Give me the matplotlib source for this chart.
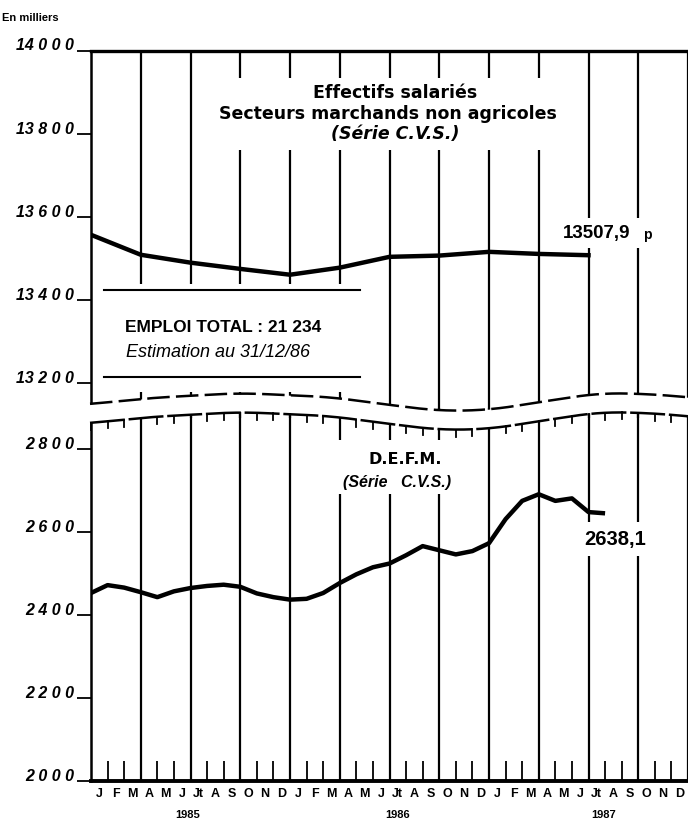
import numpy as np
import matplotlib.pyplot as plt
from matplotlib.patches import Rectangle, Polygon

# Effectifs salaries (trimestriel), mois depuis janvier 1985
emploi_mois = [0, 3, 6, 9, 12, 15, 18, 21, 24, 27, 30]
emploi = [13557, 13509, 13490, 13475, 13461, 13478, 13504, 13507, 13516, 13511, 13507.9]

# D.E.F.M. (mensuel)
defm_mois = list(range(32))
defm = [2453, 2472, 2466, 2455, 2443, 2457, 2465, 2470, 2473, 2468, 2452, 2443,
        2437, 2439, 2453, 2477, 2498, 2515, 2524, 2544, 2566, 2556, 2546, 2554,
        2573, 2631, 2675, 2691, 2675, 2681, 2648, 2645]

ticks_haut = [13200, 13400, 13600, 13800, 14000]
labels_haut = ['13 2 0 0', '13 4 0 0', '13 6 0 0', '13 8 0 0', '14 0 0 0']
ticks_bas = [2000, 2200, 2400, 2600, 2800]
labels_bas = ['2 0 0 0', '2 2 0 0', '2 4 0 0', '2 6 0 0', '2 8 0 0']
mois = ['J', 'F', 'M', 'A', 'M', 'J', 'Jt', 'A', 'S', 'O', 'N', 'D'] * 3
annees = ['1985', '1986', '1987']

plt.rcParams['font.family'] = ['Liberation Sans', 'DejaVu Sans']
narrow = ['Liberation Sans Narrow', 'Liberation Sans', 'DejaVu Sans']
large = ['DejaVu Sans']

W, H = 688, 823
x0, x1 = 91, 688

def zone(top_px, bot_px):
    return [x0 / W, 1 - bot_px / H, (x1 - x0) / W, (bot_px - top_px) / H]

fig = plt.figure(figsize=(W / 100, H / 100), dpi=100)
ax1 = fig.add_axes(zone(50.5, 418))
ax2 = fig.add_axes(zone(408, 781))
ax1.set_ylim(14000 - (418 - 50.5) / 0.416, 14000)
ax2.set_ylim(2000, 2000 + (781 - 408) / 0.415)

for ax in (ax1, ax2):
    ax.set_xlim(0, 36)
    ax.patch.set_visible(False)
    ax.spines['right'].set_visible(False)
    ax.spines['left'].set_linewidth(1.8)
    for q in range(3, 37, 3):
        ax.axvline(q, color='k', lw=1.6)
    ax.tick_params(axis='y', direction='out', length=10, width=1.3, pad=2)

ax1.spines['bottom'].set_visible(False)
ax1.spines['top'].set_linewidth(2.4)
ax2.spines['top'].set_visible(False)
ax2.spines['bottom'].set_linewidth(2.8)

ax1.plot(emploi_mois, emploi, color='k', lw=3.2, solid_joinstyle='round')
ax2.plot(defm_mois, defm, color='k', lw=3.2, solid_joinstyle='round', solid_capstyle='butt')

# petites graduations mensuelles en bas
ax2.vlines(range(37), 2000, 2048, color='k', lw=1.3)

ax1.set_yticks(ticks_haut, labels_haut, fontsize=11.5, fontstyle='italic', fontweight='bold')
ax2.set_yticks(ticks_bas, labels_bas, fontsize=11.5, fontstyle='italic', fontweight='bold')
ax1.set_xticks([])
ax2.set_xticks(np.arange(36) + 0.5, mois, fontsize=9, fontweight='bold', family=narrow)
ax2.tick_params(axis='x', length=0, pad=5)
for lbl in ax1.get_yticklabels() + ax2.get_yticklabels():
    lbl.set_verticalalignment('baseline')

for i, a in enumerate(annees):
    ax2.text(5.8 + i * 12.7 - (0.3 if i == 2 else 0), -0.092, a, transform=ax2.get_xaxis_transform(),
             ha='center', va='center', fontsize=8, fontweight='bold')

# calque pour la coupure et les annotations, en pixels
ov = fig.add_axes([0, 0, 1, 1], zorder=5)
ov.set_xlim(0, W)
ov.set_ylim(H, 0)
ov.axis('off')
ov.patch.set_alpha(0)

cx = [60, 91, 150, 240, 330, 390, 440, 490, 540, 600, 650, 720]
cy = [406, 404, 398, 393, 397, 405, 411, 410, 402, 393, 394, 400]
xs = np.linspace(60, 720, 661)
ys = np.interp(xs, cx, cy)
k = 51
ys = np.convolve(np.pad(ys, k // 2, mode='edge'), np.ones(k) / k, mode='valid')
keep = (xs >= 89.5) & (xs <= 690)
xs, ys = xs[keep], ys[keep]
ys2 = ys + 19

ov.add_patch(Polygon(np.column_stack([np.r_[xs, xs[::-1]], np.r_[ys + 0.5, ys2[::-1] - 0.5]]),
                     closed=True, fc='white', ec='none'))
ov.plot(xs, ys, color='k', lw=1.8, dashes=(9, 2.5))
ov.plot(xs, ys2, color='k', lw=1.8, dashes=(14, 1.5))
for m in range(37):
    xp = x0 + m * (x1 - x0) / 36
    yp = np.interp(xp, xs, ys2)
    ov.plot([xp, xp], [yp, yp + 7], color='k', lw=1.3)

ov.text(2, 18, 'En milliers', fontsize=8, fontweight='bold', va='center', ha='left')

# titre du haut
ov.add_patch(Rectangle((214, 78), 352, 72, fc='white', ec='none'))
ov.text(395, 93, 'Effectifs salariés', ha='center', va='center', fontsize=12.5,
        fontweight='bold', family=large)
ov.text(388, 114, 'Secteurs marchands non agricoles', ha='center', va='center', fontsize=12.5,
        fontweight='bold', family=large)
ov.text(395, 134, '(Série C.V.S.)', ha='center', va='center', fontsize=12.5,
        fontweight='bold', fontstyle='italic', family=large)

ov.add_patch(Rectangle((558, 218), 100, 30, fc='white', ec='none'))
ov.text(563, 233, '13507,9', ha='left', va='center', fontsize=13.5, fontweight='bold')
ov.text(643, 235, 'p', ha='left', va='center', fontsize=10, fontweight='bold')

# encadre emploi total
ov.add_patch(Rectangle((94, 284), 268, 108, fc='white', ec='none'))
ov.plot([104, 360], [290, 290], color='k', lw=1.5)
ov.plot([104, 360], [377, 377], color='k', lw=1.5)
ov.text(223, 327, 'EMPLOI TOTAL : 21 234', ha='center', va='center', fontsize=12.5,
        fontweight='bold', family=narrow)
ov.text(218, 352, 'Estimation au 31/12/86', ha='center', va='center', fontsize=13,
        fontstyle='italic', family=narrow)

# D.E.F.M.
ov.add_patch(Rectangle((316, 440), 160, 54, fc='white', ec='none'))
ov.text(405, 459, 'D.E.F.M.', ha='center', va='center', fontsize=11.5, fontweight='bold', family=large)
ov.text(397, 482, '(Série   C.V.S.)', ha='center', va='center', fontsize=11.5,
        fontweight='bold', fontstyle='italic')

ov.add_patch(Rectangle((574, 522), 84, 34, fc='white', ec='none'))
ov.text(615, 539, '2638,1', ha='center', va='center', fontsize=14.5, fontweight='bold')

fig.savefig('out.png', dpi=100)
